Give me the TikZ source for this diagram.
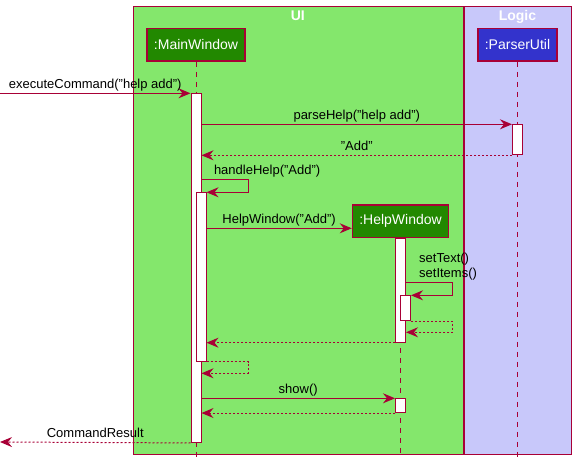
\documentclass[tikz,border=0pt]{standalone}
\usepackage{fontspec}
\setmainfont{Liberation Sans}
\usetikzlibrary{arrows.meta,positioning,calc}
\definecolor{umlborder}{RGB}{168,0,54}
\definecolor{uigreen}{RGB}{132,231,108}
\definecolor{logicblue}{RGB}{200,200,250}
\definecolor{mwgreen}{RGB}{34,136,0}
\definecolor{parserblue}{RGB}{51,51,204}

\tikzset{
    groupbox/.style={draw=umlborder, line width=0.9pt, anchor=north west, inner sep=0pt},
    grouptitle/.style={text=white, font=\fontsize{10.5}{12}\selectfont\bfseries, anchor=base, inner sep=0pt},
    participant/.style={draw=umlborder, line width=1.1pt, text=white, font=\fontsize{10.5}{12}\selectfont, minimum height=24.5pt, inner sep=2pt},
    lifeline/.style={draw=umlborder, line width=0.75pt, dash pattern=on 3.75pt off 3.75pt},
    actbar/.style={draw=umlborder, fill=white, line width=0.75pt, minimum width=7.5pt, inner sep=0pt, anchor=north},
    msg/.style={draw=umlborder, line width=0.75pt, -{Stealth[length=9pt,width=7.5pt,inset=3pt]}},
    reply/.style={msg, dash pattern=on 1.5pt off 1.5pt},
    msglabel/.style={font=\fontsize{9.75}{11.25}\selectfont, inner sep=0pt, anchor=base, yshift=3.75pt}
}

\begin{document}
\begin{tikzpicture}[x=0.75pt, y=-0.75pt]
    \useasboundingbox (0,0) rectangle (576,466);

    % boxes
    \node[groupbox, fill=uigreen, minimum width=247.3pt, minimum height=336pt] (ui) at (133,6) {};
    \node[groupbox, fill=logicblue, minimum width=80.25pt, minimum height=336pt] (logic) at (464,6) {};
    \node[grouptitle] (uititle) at (297.8,21) {UI};
    \node[grouptitle] (logictitle) at (517.5,21) {Logic};

    % participants
    \node[participant, fill=mwgreen, minimum width=73.7pt] (mainwin) at (196,44.7) {:MainWindow};
    \node[participant, fill=parserblue, minimum width=59.5pt] (parser) at (517.5,44.7) {:ParserUtil};
    \node[participant, fill=mwgreen, minimum width=72pt] (helpwin) at (400.5,221.3) {:HelpWindow};

    \coordinate (bottom) at (0,458);
    \draw[lifeline] (mainwin.south) -- (mainwin.south |- bottom);
    \draw[lifeline] (parser.south) -- (parser.south |- bottom);
    \draw[lifeline] (helpwin.south) -- (helpwin.south |- bottom);

    % activations
    \node[actbar, minimum height=261.5pt] (act1) at (196,93.3) {};
    \node[actbar, minimum height=22.5pt] (act2) at (517.5,124.3) {};
    \node[actbar, minimum height=126.5pt] (act3) at (201,192.3) {};
    \node[actbar, minimum height=78pt] (act4) at (400.5,237.7) {};
    \node[actbar, minimum height=18.75pt] (act5) at (405.5,295.3) {};
    \node[actbar, minimum height=10.3pt] (act6) at (400.5,398.3) {};

    % messages
    \coordinate (callin) at (0,93.3);
    \coordinate (resultout) at (0,442);
    \coordinate (hh) at (248.3,179.3);
    \coordinate (create) at (0,228.3);
    \coordinate (st) at (452.7,282.3);
    \coordinate (sr) at (452.7,332.3);
    \coordinate (hr) at (248.3,373.3);

    \draw[msg] (callin) -- node[msglabel] {executeCommand("help add")} (act1.north west);
    \draw[msg] (act1.east |- act2.north) -- node[msglabel] {parseHelp("help add")} (act2.north west);
    \draw[reply] (act2.south west) -- node[msglabel] {"Add"} (act1.east |- act2.south);
    \draw[msg] (act1.east |- hh) node[msglabel, anchor=base west, xshift=9pt] {handleHelp("Add")}
        -- (hh) -- (hh |- act3.north) -- (act3.north east);
    \draw[msg] (act3.east |- create) -- node[msglabel] {HelpWindow("Add")} (helpwin.west |- create);
    \draw[msg] (act4.east |- st) node[msglabel, align=left, anchor=south west, xshift=9.5pt, yshift=-2.5pt] {setText()\\setItems()}
        -- (st) -- (st |- act5.north) -- (act5.north east);
    \draw[reply] (act5.south east) -- (sr |- act5.south) -- (sr) -- (act4.east |- sr);
    \draw[reply] (act4.south west) -- (act3.east |- act4.south);
    \draw[reply] (act3.south east) -- (hr |- act3.south) -- (hr) -- (act1.east |- hr);
    \draw[msg] (act1.east |- act6.north) -- node[msglabel] {show()} (act6.north west);
    \draw[reply] (act6.south west) -- (act1.east |- act6.south);
    \draw[reply] (act1.south west) -- node[msglabel] {CommandResult} (resultout);
\end{tikzpicture}
\end{document}
